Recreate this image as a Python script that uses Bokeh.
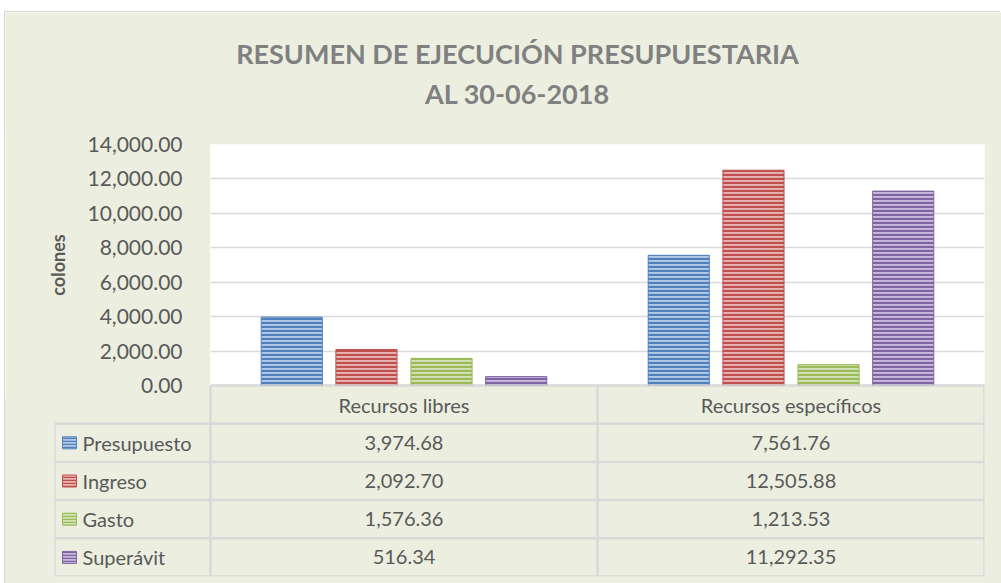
from bokeh.plotting import figure
from bokeh.models import (FactorRange, Range1d, NumeralTickFormatter, ColumnDataSource, Span)
from bokeh.transform import dodge
from bokeh.embed import file_html
from bokeh.resources import INLINE
from bokeh.core.properties import value

# ---------------- data ----------------
categories = ["Recursos libres", "Recursos específicos"]
series = ["Presupuesto", "Ingreso", "Gasto", "Superávit"]
presupuesto = [3974.68, 7561.76]
ingreso = [2092.70, 12505.88]
gasto = [1576.36, 1213.53]
superavit = [516.34, 11292.35]
y_ticks = [0, 2000, 4000, 6000, 8000, 10000, 12000, 14000]

title_lines = ["RESUMEN DE EJECUCIÓN PRESUPUESTARIA", "AL 30-06-2018"]
y_label = "colones"

# ---------------- style ----------------
FONT = "Lato"
BG = "#ECEFE0"
TXT = "#595959"
GRID = "#D9D9D9"
EDGE = "#D4D4D4"
main_colors = ["#4F81BD", "#C0504D", "#9BBB59", "#8064A2"]
light_colors = ["#B4C8E4", "#E6B4B3", "#D3E2B6", "#C6B8DA"]

values = [presupuesto, ingreso, gasto, superavit]

W = 996
H0 = 118          # title band
SEAM = 2
TOP = 14 + SEAM
OVER = 14
H1 = TOP + 241 + OVER
H2 = 198
COL_W = 387
LEG_W = 156

# ---------------- title band ----------------
tt = figure(x_range=Range1d(0, W), y_range=Range1d(H0, 0), width=W, height=H0,
            output_backend="svg", toolbar_location=None,
            min_border_left=0, min_border_right=0, min_border_top=0, min_border_bottom=0,
            styles={"margin-left": "5px", "margin-top": "12px",
                    "box-shadow": f"-1px -1px 0 0 {EDGE}"})
tt.background_fill_color = BG
tt.border_fill_color = BG
tt.outline_line_color = None
tt.axis.visible = False
tt.grid.visible = False
tt.text(x=[512, 512], y=[41, 81], text=title_lines, text_align="center", text_baseline="middle",
        text_font=value(FONT), text_font_size="27px", text_font_style="bold", text_color="#808080")

# ---------------- chart figure ----------------
p = figure(x_range=FactorRange(*categories, range_padding=0), y_range=Range1d(0, 14000),
           width=W, height=H1, output_backend="svg", toolbar_location=None,
           min_border_left=205, min_border_right=17, min_border_top=TOP, min_border_bottom=OVER,
           styles={"margin-left": "5px", "margin-top": f"-{SEAM}px",
                   "box-shadow": f"-1px 0 0 0 {EDGE}"})
p.background_fill_color = "white"
p.border_fill_color = BG
p.outline_line_color = None

src = ColumnDataSource(dict(cat=categories, **{s: v for s, v in zip(series, values)}))
offsets = [-0.29, -0.097, 0.097, 0.29]
for s, off, mc, lc in zip(series, offsets, main_colors, light_colors):
    p.vbar(x=dodge("cat", off, range=p.x_range), top=s, width=0.158, source=src,
           fill_color=lc, line_color=mc, line_width=1,
           hatch_pattern="horizontal_line", hatch_color=mc, hatch_scale=4, hatch_weight=2.2)

p.xaxis.visible = False
p.xgrid.grid_line_color = None
p.ygrid.grid_line_color = GRID
p.ygrid.grid_line_width = 1.5
p.yaxis.ticker = y_ticks
p.yaxis.formatter = NumeralTickFormatter(format="0,0.00")
p.yaxis.axis_line_color = None
p.yaxis.major_tick_line_color = None
p.yaxis.minor_tick_line_color = None
p.yaxis.major_label_text_font = FONT
p.yaxis.major_label_text_font_size = "21px"
p.yaxis.major_label_text_color = TXT
p.yaxis.major_label_standoff = 22
p.yaxis.axis_label = y_label
p.yaxis.axis_label_text_font = FONT
p.yaxis.axis_label_text_font_size = "18px"
p.yaxis.axis_label_text_font_style = "bold"
p.yaxis.axis_label_text_color = TXT
p.yaxis.axis_label_standoff = 16

p.add_layout(Span(location=0, dimension="width", line_color="#BFBFBF", line_width=2))

# ---------------- data table figure ----------------
x0 = -LEG_W / COL_W
n_rows = len(series) + 1
t = figure(x_range=Range1d(x0, len(categories)), y_range=Range1d(n_rows, 0),
           width=W, height=H2, output_backend="svg", toolbar_location=None,
           min_border_left=49, min_border_right=17, min_border_top=0, min_border_bottom=7,
           styles={"margin-left": "5px", "margin-top": f"-{OVER}px",
                   "background": f"linear-gradient(to bottom, transparent {OVER}px, {BG} {OVER}px)",
                   "box-shadow": f"-1px 0 0 0 {EDGE}"})
t.background_fill_alpha = 0
t.border_fill_alpha = 0
t.outline_line_color = None
t.axis.visible = False
t.grid.visible = False

# table borders
hx0, hx1, hy = [], [], []
for r in range(n_rows + 1):
    hy.append(r)
    hx0.append(0 if r == 0 else x0)
    hx1.append(len(categories))
t.segment(x0=hx0, x1=hx1, y0=hy, y1=hy, line_color=GRID, line_width=2.5)
vx = [x0] + list(range(len(categories) + 1))
vy0 = [1] + [0] * (len(categories) + 1)
t.segment(x0=vx, x1=vx, y0=vy0, y1=[n_rows] * len(vx), line_color=GRID, line_width=2.5)

# header
t.text(x=[i + 0.5 for i in range(len(categories))], y=[0.5] * len(categories), text=categories,
       text_align="center", text_baseline="middle", text_font=value(FONT),
       text_font_size="20px", text_color=TXT)

# legend keys and names
rows_y = [r + 1.5 for r in range(len(series))]
t.rect(x=[x0 + 15 / COL_W] * len(series), y=rows_y, width=14, height=12,
       width_units="screen", height_units="screen",
       fill_color=light_colors, line_color=main_colors, line_width=1,
       hatch_pattern="horizontal_line", hatch_color=main_colors, hatch_scale=3, hatch_weight=1.5)
t.text(x=[x0 + 28 / COL_W] * len(series), y=rows_y, text=series,
       text_align="left", text_baseline="middle", text_font=value(FONT),
       text_font_size="20px", text_color=TXT)

# cell values
cx, cy, ct = [], [], []
for r, vals in enumerate(values):
    for c, v in enumerate(vals):
        cx.append(c + 0.5)
        cy.append(r + 1.5)
        ct.append(f"{v:,.2f}")
t.text(x=cx, y=cy, text=ct, text_align="center", text_baseline="middle",
       text_font=value(FONT), text_font_size="20px", text_color=TXT)

open("out.html", "w").write(file_html([tt, p, t], INLINE))
